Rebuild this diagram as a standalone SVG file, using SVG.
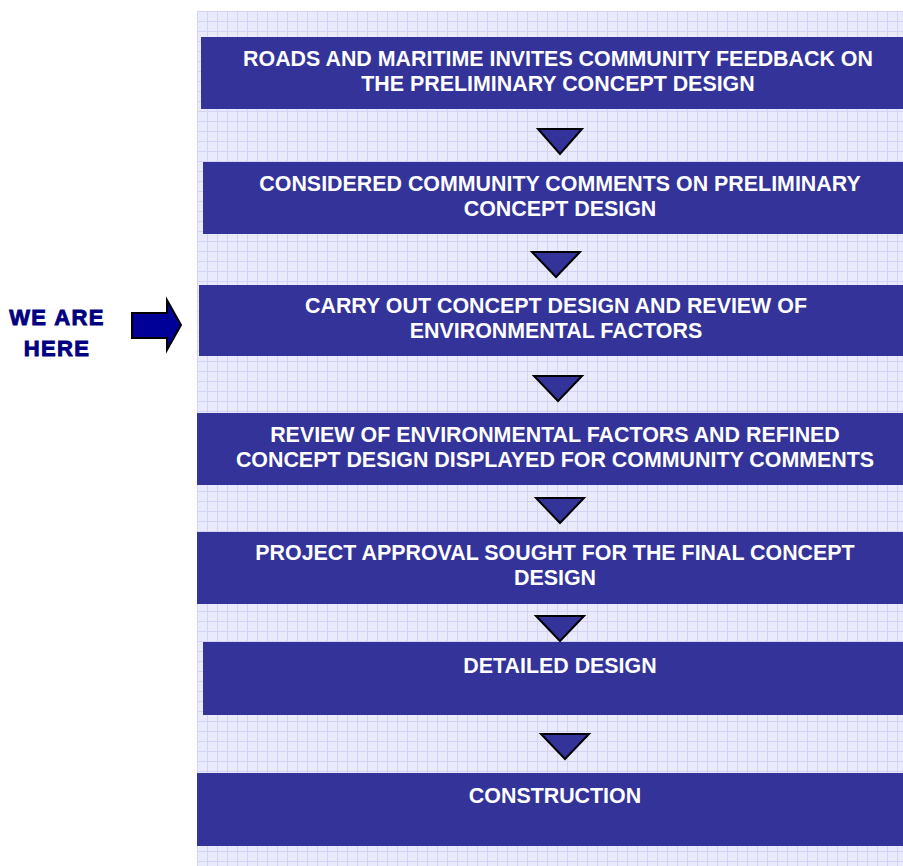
<svg xmlns="http://www.w3.org/2000/svg" width="903" height="866" viewBox="0 0 903 866">
<defs>
<pattern id="grid" x="197" y="11" width="10" height="10" patternUnits="userSpaceOnUse">
<rect width="10" height="10" fill="#eaeafd"/>
<path d="M0 0.5H10M0.5 0V10" stroke="#d3d3f7" stroke-width="1"/>
</pattern>
<style>
.box{fill:#333399}
.t{font-family:"Liberation Sans",Arial,sans-serif;font-weight:bold;font-size:21.4px;fill:#ffffff;text-anchor:middle}
.tri{fill:#333399;stroke:#000000;stroke-width:2;stroke-linejoin:miter}
.here{font-family:"Liberation Sans",Arial,sans-serif;font-weight:bold;font-size:22px;letter-spacing:1.4px;fill:#000080;stroke:#000080;stroke-width:0.9;text-anchor:middle}
</style>
</defs>
<rect width="903" height="866" fill="#ffffff"/>
<rect x="197" y="11" width="706" height="855" fill="url(#grid)"/>
<g id="connectors">
<polygon class="tri" points="538,129 582,129 560,154"/>
<polygon class="tri" points="532,252 580,252 556,277"/>
<polygon class="tri" points="534,376 582,376 558,401"/>
<polygon class="tri" points="536,498 584,498 560,523"/>
<polygon class="tri" points="536,616 584,616 560,641"/>
<polygon class="tri" points="541,734 589,734 565,759"/>
</g>
<g id="n1"><rect class="box" x="201" y="37" width="702" height="72"/>
<text class="t" x="558" y="66">ROADS AND MARITIME INVITES COMMUNITY FEEDBACK ON</text>
<text class="t" x="558" y="91">THE PRELIMINARY CONCEPT DESIGN</text></g>
<g id="n2"><rect class="box" x="203" y="162" width="700" height="72"/>
<text class="t" x="560" y="191">CONSIDERED COMMUNITY COMMENTS ON PRELIMINARY</text>
<text class="t" x="560" y="216">CONCEPT DESIGN</text></g>
<g id="n3"><rect class="box" x="199" y="285" width="704" height="71"/>
<text class="t" x="556" y="313">CARRY OUT CONCEPT DESIGN AND REVIEW OF</text>
<text class="t" x="556" y="338">ENVIRONMENTAL FACTORS</text></g>
<g id="n4"><rect class="box" x="197" y="413" width="706" height="72"/>
<text class="t" x="555" y="442">REVIEW OF ENVIRONMENTAL FACTORS AND REFINED</text>
<text class="t" x="555" y="467">CONCEPT DESIGN DISPLAYED FOR COMMUNITY COMMENTS</text></g>
<g id="n5"><rect class="box" x="197" y="532" width="706" height="72"/>
<text class="t" x="555" y="560">PROJECT APPROVAL SOUGHT FOR THE FINAL CONCEPT</text>
<text class="t" x="555" y="585">DESIGN</text></g>
<g id="n6"><rect class="box" x="203" y="642" width="700" height="73"/>
<text class="t" x="560" y="673">DETAILED DESIGN</text></g>
<g id="n7"><rect class="box" x="197" y="773" width="706" height="73"/>
<text class="t" x="555" y="803">CONSTRUCTION</text></g>
<g id="here">
<text class="here" x="57" y="325">WE ARE</text>
<text class="here" x="57" y="356">HERE</text>
<polygon points="132,313 167,313 167,300 181,325 167,350 167,338 132,338" fill="#000099" stroke="#000000" stroke-width="2"/>
</g>
</svg>
